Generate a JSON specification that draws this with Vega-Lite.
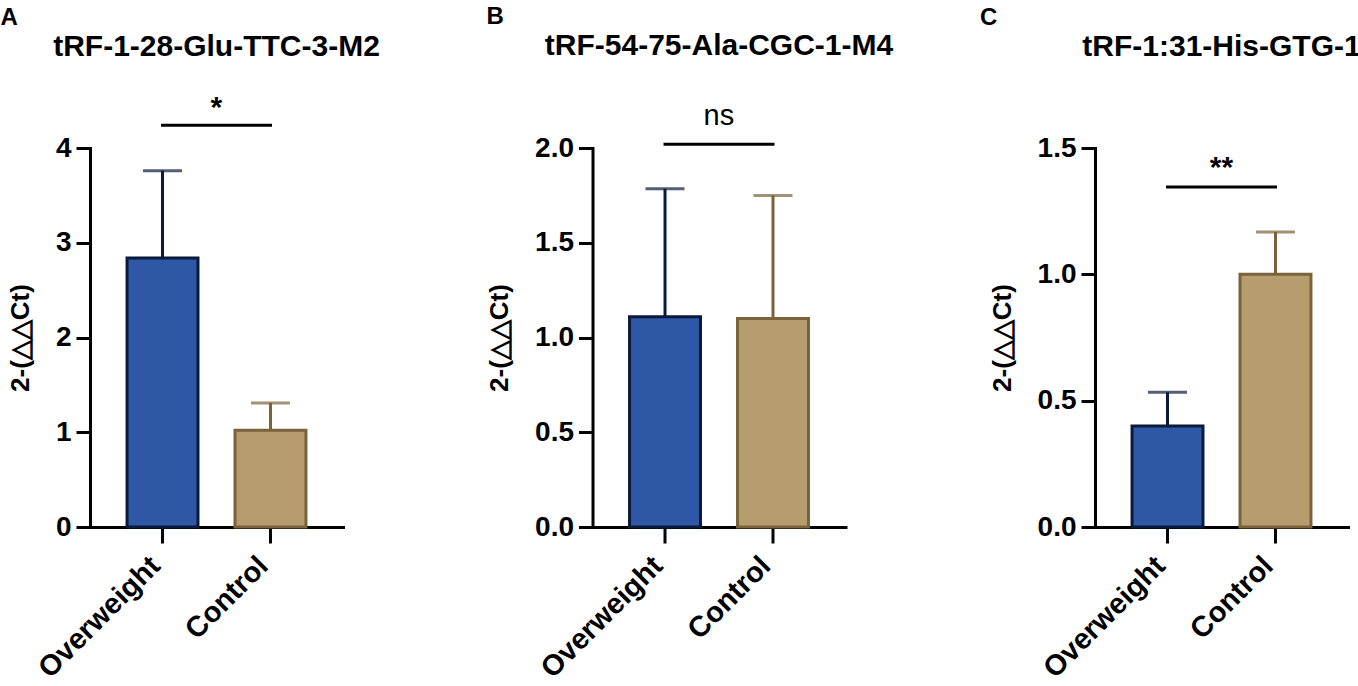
{
  "$schema": "https://vega.github.io/schema/vega-lite/v6.json",
  "background": "white",
  "padding": {"left": 0, "top": 5, "right": 0, "bottom": 0},
  "datasets": {
    "bars": [
      {"panel": "A", "group": "Overweight", "mean": 2.84, "upper": 3.76},
      {"panel": "A", "group": "Control", "mean": 1.02, "upper": 1.31},
      {"panel": "B", "group": "Overweight", "mean": 1.11, "upper": 1.785},
      {"panel": "B", "group": "Control", "mean": 1.10, "upper": 1.75},
      {"panel": "C", "group": "Overweight", "mean": 0.40, "upper": 0.533},
      {"panel": "C", "group": "Control", "mean": 1.0, "upper": 1.168}
    ],
    "sig": [
      {"panel": "A", "from": "Overweight", "to": "Control", "line": 4.24, "textpos": 4.33, "label": "*"},
      {"panel": "B", "from": "Overweight", "to": "Control", "line": 2.02, "textpos": 2.12, "label": "ns"},
      {"panel": "C", "from": "Overweight", "to": "Control", "line": 1.346, "textpos": 1.386, "label": "**"}
    ]
  },
  "hconcat": [
    {
      "title": {"text": "A", "anchor": "start", "frame": "bounds", "dx": -7, "fontSize": 24, "offset": 2},
      "vconcat": [
        {
          "title": {"text": "tRF-1-28-Glu-TTC-3-M2", "dy": -13},
          "width": 253,
          "height": 379,
          "layer": [
            {
              "data": {"name": "bars"},
              "transform": [{"filter": "datum.panel === 'A'"}],
              "mark": {"type": "rule", "strokeWidth": 3},
              "encoding": {
                "x": {"field": "group", "type": "nominal", "scale": {"domain": ["Overweight", "Control"]}},
                "y": {"field": "mean", "type": "quantitative"},
                "y2": {"field": "upper"},
                "stroke": {"field": "group", "type": "nominal", "legend": null, "scale": {"domain": ["Overweight", "Control"], "range": ["#0B1A3A", "#7A623A"]}}
              }
            },
            {
              "data": {"name": "bars"},
              "transform": [{"filter": "datum.panel === 'A'"}],
              "mark": {"type": "tick", "size": 39, "thickness": 3, "orient": "horizontal"},
              "encoding": {
                "x": {"field": "group", "type": "nominal", "scale": {"domain": ["Overweight", "Control"]}},
                "y": {"field": "upper", "type": "quantitative"},
                "color": {"field": "group", "type": "nominal", "legend": null, "scale": {"domain": ["Overweight", "Control"], "range": ["#0B1A3A", "#7A623A"]}}
              }
            },
            {
              "data": {"name": "bars"},
              "transform": [{"filter": "datum.panel === 'A'"}],
              "mark": {"type": "bar", "strokeWidth": 3},
              "encoding": {
                "x": {"field": "group", "type": "nominal", "scale": {"domain": ["Overweight", "Control"]}},
                "y": {"field": "mean", "type": "quantitative", "title": "2-(△△Ct)", "scale": {"domain": [0, 4], "nice": false}, "axis": {"values": [0, 1, 2, 3, 4], "format": "d"}},
                "fill": {"field": "group", "type": "nominal", "legend": null, "scale": {"domain": ["Overweight", "Control"], "range": ["#2E57A5", "#B59D6F"]}},
                "stroke": {"field": "group", "type": "nominal", "legend": null}
              }
            },
            {
              "data": {"name": "sig"},
              "transform": [{"filter": "datum.panel === 'A'"}],
              "mark": {"type": "rule", "strokeWidth": 3, "color": "black", "strokeCap": "square"},
              "encoding": {
                "x": {"field": "from", "type": "nominal", "scale": {"domain": ["Overweight", "Control"]}, "bandPosition": 0.5},
                "x2": {"field": "to", "bandPosition": 0.5},
                "y": {"field": "line", "type": "quantitative"}
              }
            },
            {
              "data": {"name": "sig"},
              "transform": [{"filter": "datum.panel === 'A'"}],
              "mark": {"type": "text", "fontSize": 30, "fontWeight": "bold", "baseline": "alphabetic", "align": "center", "color": "black"},
              "encoding": {
                "x": {"field": "from", "type": "nominal", "scale": {"domain": ["Overweight", "Control"]}, "bandPosition": 1.26},
                "y": {"field": "textpos", "type": "quantitative"},
                "text": {"field": "label"}
              }
            }
          ]
        }
      ]
    },
    {
      "title": {"text": "B", "anchor": "start", "frame": "bounds", "dx": 0, "fontSize": 24, "offset": 2},
      "vconcat": [
        {
          "title": {"text": "tRF-54-75-Ala-CGC-1-M4", "dy": -23},
          "width": 253,
          "height": 379,
          "layer": [
            {
              "data": {"name": "bars"},
              "transform": [{"filter": "datum.panel === 'B'"}],
              "mark": {"type": "rule", "strokeWidth": 3},
              "encoding": {
                "x": {"field": "group", "type": "nominal", "scale": {"domain": ["Overweight", "Control"]}},
                "y": {"field": "mean", "type": "quantitative"},
                "y2": {"field": "upper"},
                "stroke": {"field": "group", "type": "nominal", "legend": null, "scale": {"domain": ["Overweight", "Control"], "range": ["#0B1A3A", "#7A623A"]}}
              }
            },
            {
              "data": {"name": "bars"},
              "transform": [{"filter": "datum.panel === 'B'"}],
              "mark": {"type": "tick", "size": 39, "thickness": 3, "orient": "horizontal"},
              "encoding": {
                "x": {"field": "group", "type": "nominal", "scale": {"domain": ["Overweight", "Control"]}},
                "y": {"field": "upper", "type": "quantitative"},
                "color": {"field": "group", "type": "nominal", "legend": null, "scale": {"domain": ["Overweight", "Control"], "range": ["#0B1A3A", "#7A623A"]}}
              }
            },
            {
              "data": {"name": "bars"},
              "transform": [{"filter": "datum.panel === 'B'"}],
              "mark": {"type": "bar", "strokeWidth": 3},
              "encoding": {
                "x": {"field": "group", "type": "nominal", "scale": {"domain": ["Overweight", "Control"]}},
                "y": {"field": "mean", "type": "quantitative", "title": "2-(△△Ct)", "scale": {"domain": [0, 2], "nice": false}, "axis": {"values": [0, 0.5, 1, 1.5, 2], "format": ".1f"}},
                "fill": {"field": "group", "type": "nominal", "legend": null, "scale": {"domain": ["Overweight", "Control"], "range": ["#2E57A5", "#B59D6F"]}},
                "stroke": {"field": "group", "type": "nominal", "legend": null}
              }
            },
            {
              "data": {"name": "sig"},
              "transform": [{"filter": "datum.panel === 'B'"}],
              "mark": {"type": "rule", "strokeWidth": 3, "color": "black", "strokeCap": "square"},
              "encoding": {
                "x": {"field": "from", "type": "nominal", "scale": {"domain": ["Overweight", "Control"]}, "bandPosition": 0.5},
                "x2": {"field": "to", "bandPosition": 0.5},
                "y": {"field": "line", "type": "quantitative"}
              }
            },
            {
              "data": {"name": "sig"},
              "transform": [{"filter": "datum.panel === 'B'"}],
              "mark": {"type": "text", "fontSize": 29, "fontWeight": "normal", "baseline": "alphabetic", "align": "center", "color": "black"},
              "encoding": {
                "x": {"field": "from", "type": "nominal", "scale": {"domain": ["Overweight", "Control"]}, "bandPosition": 1.26},
                "y": {"field": "textpos", "type": "quantitative"},
                "text": {"field": "label"}
              }
            }
          ]
        }
      ]
    },
    {
      "title": {"text": "C", "anchor": "start", "frame": "bounds", "dx": -9, "fontSize": 24, "offset": 2},
      "vconcat": [
        {
          "title": {"text": "tRF-1:31-His-GTG-1", "dy": -54},
          "width": 253,
          "height": 379,
          "layer": [
            {
              "data": {"name": "bars"},
              "transform": [{"filter": "datum.panel === 'C'"}],
              "mark": {"type": "rule", "strokeWidth": 3},
              "encoding": {
                "x": {"field": "group", "type": "nominal", "scale": {"domain": ["Overweight", "Control"]}},
                "y": {"field": "mean", "type": "quantitative"},
                "y2": {"field": "upper"},
                "stroke": {"field": "group", "type": "nominal", "legend": null, "scale": {"domain": ["Overweight", "Control"], "range": ["#0B1A3A", "#7A623A"]}}
              }
            },
            {
              "data": {"name": "bars"},
              "transform": [{"filter": "datum.panel === 'C'"}],
              "mark": {"type": "tick", "size": 39, "thickness": 3, "orient": "horizontal"},
              "encoding": {
                "x": {"field": "group", "type": "nominal", "scale": {"domain": ["Overweight", "Control"]}},
                "y": {"field": "upper", "type": "quantitative"},
                "color": {"field": "group", "type": "nominal", "legend": null, "scale": {"domain": ["Overweight", "Control"], "range": ["#0B1A3A", "#7A623A"]}}
              }
            },
            {
              "data": {"name": "bars"},
              "transform": [{"filter": "datum.panel === 'C'"}],
              "mark": {"type": "bar", "strokeWidth": 3},
              "encoding": {
                "x": {"field": "group", "type": "nominal", "scale": {"domain": ["Overweight", "Control"]}},
                "y": {"field": "mean", "type": "quantitative", "title": "2-(△△Ct)", "scale": {"domain": [0, 1.5], "nice": false}, "axis": {"values": [0, 0.5, 1, 1.5], "format": ".1f"}},
                "fill": {"field": "group", "type": "nominal", "legend": null, "scale": {"domain": ["Overweight", "Control"], "range": ["#2E57A5", "#B59D6F"]}},
                "stroke": {"field": "group", "type": "nominal", "legend": null}
              }
            },
            {
              "data": {"name": "sig"},
              "transform": [{"filter": "datum.panel === 'C'"}],
              "mark": {"type": "rule", "strokeWidth": 3, "color": "black", "strokeCap": "square"},
              "encoding": {
                "x": {"field": "from", "type": "nominal", "scale": {"domain": ["Overweight", "Control"]}, "bandPosition": 0.5},
                "x2": {"field": "to", "bandPosition": 0.5},
                "y": {"field": "line", "type": "quantitative"}
              }
            },
            {
              "data": {"name": "sig"},
              "transform": [{"filter": "datum.panel === 'C'"}],
              "mark": {"type": "text", "fontSize": 30, "fontWeight": "bold", "baseline": "alphabetic", "align": "center", "color": "black"},
              "encoding": {
                "x": {"field": "from", "type": "nominal", "scale": {"domain": ["Overweight", "Control"]}, "bandPosition": 1.26},
                "y": {"field": "textpos", "type": "quantitative"},
                "text": {"field": "label"}
              }
            }
          ]
        }
      ]
    }
  ],
  "spacing": 502.5,
  "bounds": "flush",
  "config": {
    "font": "Liberation Sans",
    "view": {"stroke": null},
    "title": {"fontSize": 30, "fontWeight": "bold", "color": "black", "anchor": "middle", "offset": 18},
    "scale": {"bandPaddingInner": 0.343, "bandPaddingOuter": 0.343},
    "axis": {
      "grid": false,
      "domainColor": "black",
      "domainWidth": 3,
      "domainCap": "square",
      "tickColor": "black",
      "tickWidth": 3,
      "labelColor": "black",
      "labelFontWeight": "bold",
      "labelFontSize": 28,
      "titleColor": "black",
      "titleFontWeight": "bold"
    },
    "axisY": {"tickSize": 14, "labelPadding": 5, "titleFontSize": 26, "titlePadding": 22},
    "axisX": {"tickSize": 16, "labelAngle": -45, "labelPadding": 8, "labelOffset": -17, "labelFontSize": 29, "title": null}
  }
}
